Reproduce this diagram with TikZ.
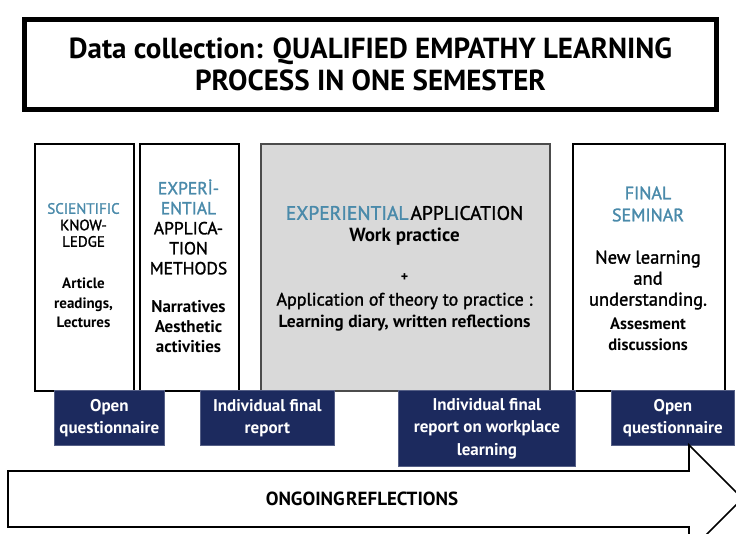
\documentclass[tikz,border=0pt]{standalone}
\usepackage{fontspec}
\setmainfont{PT Sans}
\newfontfamily\mittel[FakeBold=1.5]{PT Sans}
\definecolor{tuerkis}{HTML}{4A8AAA}
\definecolor{marine}{HTML}{1C2A5E}
\definecolor{hellgrau}{HTML}{D9D9D9}

\begin{document}
\begin{tikzpicture}[x=1pt, y=-1pt,
        spalte/.style={draw, line width=1.6pt, anchor=north west, inner sep=0pt},
        bericht/.style={fill=marine, draw=marine!75!white, line width=0.8pt, anchor=north west, inner sep=0pt,
            text=white, align=center, font=\fontsize{17}{22.5}\selectfont\bfseries},
        zeilen/.style={align=center, inner sep=0pt}]
        \useasboundingbox (0,0) rectangle (736,533);
        \clip (0,0) rectangle (736,533);

        % Titel
        \node[draw, line width=5pt, minimum width=692pt, minimum height=90pt, anchor=north west, inner sep=0pt,
            font=\fontsize{29}{32}\selectfont\bfseries, align=center] (titel) at (22,17)
            {Data collection: QUALIFIED EMPATHY LEARNING\\PROCESS IN ONE SEMESTER};

        % Spalten
        \node[spalte, minimum width=99pt, minimum height=247pt] (wissen) at (34,143) {};
        \node[spalte, minimum width=99pt, minimum height=247pt] (methoden) at (139,143) {};
        \node[spalte, fill=hellgrau, draw=black!70, minimum width=289pt, minimum height=247pt] (praxis) at (260,143) {};
        \node[spalte, minimum width=152pt, minimum height=247pt] (seminar) at (572,143) {};

        % Texte in den Spalten
        \node[zeilen, font=\fontsize{15}{16.5}\selectfont\mittel] (wissenkopf) at (83.5,225)
            {{\color{tuerkis}SCIENTIFIC}\\KNOW-\\LEDGE};
        \node[zeilen, font=\fontsize{15}{19.5}\selectfont\bfseries] (wissentext) at (83.5,303)
            {Article\\readings,\\Lectures};

        \node[zeilen, font=\fontsize{17.5}{20}\selectfont\mittel] (methodenkopf) at (188.5,227)
            {{\color{tuerkis}EXPERİ-}\\{\color{tuerkis}ENTIAL}\\APPLICA-\\TION\\METHODS};
        \node[zeilen, font=\fontsize{17}{20}\selectfont\bfseries] (methodentext) at (188.5,327)
            {Narratives\\Aesthetic\\activities};

        \node[zeilen, font=\fontsize{19.5}{20}\selectfont\mittel] (praxiskopf) at (404.5,213)
            {{\color{tuerkis}EXPERIENTIAL}\hspace{2pt}APPLICATION};
        \node[zeilen, font=\fontsize{19}{20}\selectfont\bfseries] (arbeit) at (404.5,237) {Work practice};
        \node[zeilen, font=\fontsize{14}{14}\selectfont\bfseries] (plus) at (404.5,278) {+};
        \node[zeilen, font=\fontsize{18}{20}\selectfont\mittel] (theorie) at (404.5,301) {Application of theory to practice :};
        \node[zeilen, font=\fontsize{17.5}{18}\selectfont\bfseries] (tagebuch) at (404.5,323) {Learning diary, written reflections};

        \node[zeilen, font=\fontsize{18}{22}\selectfont\mittel, text=tuerkis] (seminarkopf) at (648,204)
            {FINAL\\SEMINAR};
        \node[zeilen, font=\fontsize{18.5}{21}\selectfont\mittel] (lernen) at (648,280)
            {New learning\\and\\understanding.};
        \node[zeilen, font=\fontsize{16.5}{21}\selectfont\bfseries] (diskussion) at (648,334)
            {Assesment\\discussions};

        % Fragebogen und Berichte
        \node[bericht, minimum width=110pt, minimum height=55pt] (frage1) at (54,390) {Open\\questionnaire};
        \node[bericht, minimum width=134pt, minimum height=55pt] (bericht1) at (200,390) {Individual final\\report};
        \node[bericht, minimum width=177pt, minimum height=76pt] (bericht2) at (398,390)
            {Individual final\\report on workplace\\learning};
        \node[bericht, minimum width=123pt, minimum height=55pt] (frage2) at (611,390) {Open\\questionnaire};

        % Pfeil
        \draw[line width=1.6pt] (8,471) -- (689,471) -- (689,445) -- (742.5,498.5) -- (689,552)
            -- (689,527) -- (8,527) -- cycle;
        \node[zeilen, font=\fontsize{19}{20}\selectfont\bfseries] (reflexion) at (362,499)
            {ONGOING\hspace{1.5pt}REFLECTIONS};
\end{tikzpicture}
\end{document}
